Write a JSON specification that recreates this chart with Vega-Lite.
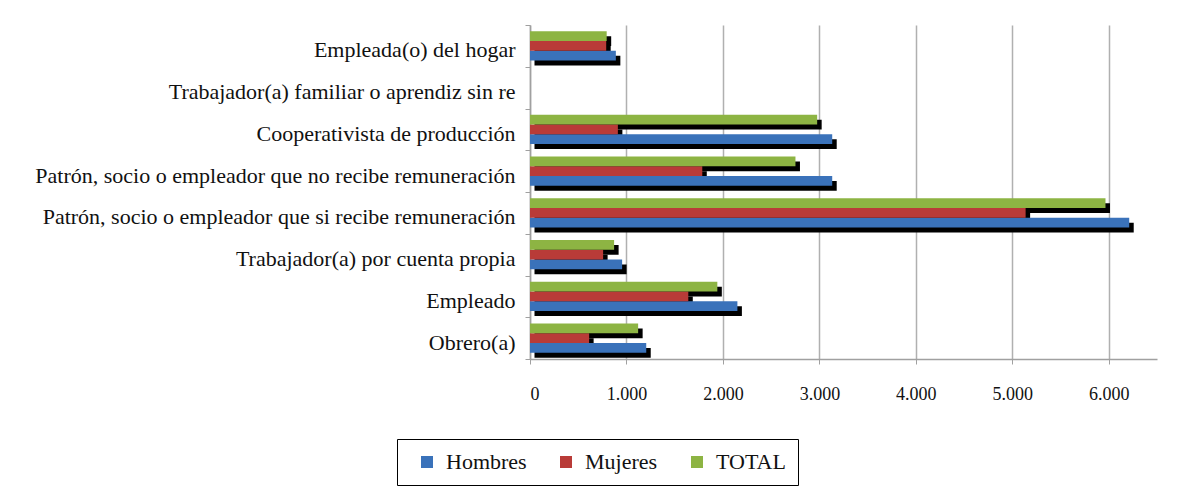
{
  "$schema": "https://vega.github.io/schema/vega-lite/v6.json",
  "autosize": "none",
  "width": 627,
  "height": 334,
  "padding": {"left": 530, "top": 25, "right": 38, "bottom": 129},
  "background": "white",
  "config": {
    "locale": {"number": {"decimal": ",", "thousands": ".", "grouping": [3], "currency": ["$", ""]}},
    "view": {"stroke": null},
    "font": "Liberation Serif"
  },
  "data": {
    "values": [
      {"categoria": "Empleada(o) del hogar", "serie": "Hombres", "valor": 890},
      {"categoria": "Empleada(o) del hogar", "serie": "Mujeres", "valor": 790},
      {"categoria": "Empleada(o) del hogar", "serie": "TOTAL", "valor": 795},
      {"categoria": "Trabajador(a) familiar o aprendiz sin re", "serie": "Hombres", "valor": 0},
      {"categoria": "Trabajador(a) familiar o aprendiz sin re", "serie": "Mujeres", "valor": 0},
      {"categoria": "Trabajador(a) familiar o aprendiz sin re", "serie": "TOTAL", "valor": 0},
      {"categoria": "Cooperativista de producción", "serie": "Hombres", "valor": 3133},
      {"categoria": "Cooperativista de producción", "serie": "Mujeres", "valor": 911},
      {"categoria": "Cooperativista de producción", "serie": "TOTAL", "valor": 2977},
      {"categoria": "Patrón, socio o empleador que no recibe remuneración", "serie": "Hombres", "valor": 3133},
      {"categoria": "Patrón, socio o empleador que no recibe remuneración", "serie": "Mujeres", "valor": 1786},
      {"categoria": "Patrón, socio o empleador que no recibe remuneración", "serie": "TOTAL", "valor": 2752},
      {"categoria": "Patrón, socio o empleador que si recibe remuneración", "serie": "Hombres", "valor": 6212},
      {"categoria": "Patrón, socio o empleador que si recibe remuneración", "serie": "Mujeres", "valor": 5138},
      {"categoria": "Patrón, socio o empleador que si recibe remuneración", "serie": "TOTAL", "valor": 5966},
      {"categoria": "Trabajador(a) por cuenta propia", "serie": "Hombres", "valor": 955},
      {"categoria": "Trabajador(a) por cuenta propia", "serie": "Mujeres", "valor": 758},
      {"categoria": "Trabajador(a) por cuenta propia", "serie": "TOTAL", "valor": 872},
      {"categoria": "Empleado", "serie": "Hombres", "valor": 2150},
      {"categoria": "Empleado", "serie": "Mujeres", "valor": 1641},
      {"categoria": "Empleado", "serie": "TOTAL", "valor": 1942},
      {"categoria": "Obrero(a)", "serie": "Hombres", "valor": 1205},
      {"categoria": "Obrero(a)", "serie": "Mujeres", "valor": 613},
      {"categoria": "Obrero(a)", "serie": "TOTAL", "valor": 1121}
    ]
  },
  "encoding": {
    "y": {
      "field": "categoria",
      "type": "nominal",
      "sort": [
        "Empleada(o) del hogar",
        "Trabajador(a) familiar o aprendiz sin re",
        "Cooperativista de producción",
        "Patrón, socio o empleador que no recibe remuneración",
        "Patrón, socio o empleador que si recibe remuneración",
        "Trabajador(a) por cuenta propia",
        "Empleado",
        "Obrero(a)"
      ],
      "scale": {"paddingInner": 0, "paddingOuter": 0},
      "axis": {
        "title": null,
        "tickBand": "extent",
        "tickSize": 5,
        "tickColor": "#a0a0a0",
        "domainColor": "#a0a0a0",
        "domainWidth": 1.5,
        "labelFont": "Liberation Serif",
        "labelFontSize": 22,
        "labelColor": "#111111",
        "labelPadding": 10,
        "labelOffset": 4,
        "labelLimit": 700,
        "grid": false
      }
    },
    "x": {
      "field": "valor",
      "type": "quantitative",
      "scale": {"domain": [0, 6500], "nice": false},
      "axis": {
        "title": null,
        "values": [0, 1000, 2000, 3000, 4000, 5000, 6000],
        "format": ",d",
        "grid": true,
        "gridColor": "#b0b0b0",
        "gridWidth": 1.5,
        "tickSize": 5,
        "tickColor": "#a0a0a0",
        "domainColor": "#a0a0a0",
        "domainWidth": 1.5,
        "labelFont": "Liberation Serif",
        "labelFontSize": 18,
        "labelColor": "#111111",
        "labelPadding": 21
      }
    }
  },
  "resolve": {"scale": {"yOffset": "independent"}},
  "layer": [
    {
      "mark": {"type": "bar", "color": "black", "xOffset": 4.5, "x2Offset": 4.5},
      "encoding": {
        "yOffset": {
          "field": "serie",
          "type": "nominal",
          "sort": ["TOTAL", "Mujeres", "Hombres"],
          "scale": {"paddingInner": 0, "paddingOuter": 0.65, "align": 0.9}
        }
      }
    },
    {
      "mark": {"type": "bar"},
      "encoding": {
        "yOffset": {
          "field": "serie",
          "type": "nominal",
          "sort": ["TOTAL", "Mujeres", "Hombres"],
          "scale": {"paddingInner": 0, "paddingOuter": 0.65, "align": 0.5}
        },
        "color": {
          "field": "serie",
          "type": "nominal",
          "scale": {"domain": ["Hombres", "Mujeres", "TOTAL"], "range": ["#3a72ba", "#b93b38", "#8db443"]},
          "legend": {
            "title": null,
            "orient": "none",
            "legendX": -133,
            "legendY": 414,
            "direction": "horizontal",
            "symbolType": "square",
            "symbolSize": 144,
            "symbolStrokeWidth": 0,
            "symbolOffset": 7,
            "labelFont": "Liberation Serif",
            "labelFontSize": 22,
            "labelColor": "#111111",
            "labelOffset": 8,
            "columnPadding": 21,
            "padding": 12,
            "strokeColor": "black"
          }
        }
      }
    }
  ]
}
